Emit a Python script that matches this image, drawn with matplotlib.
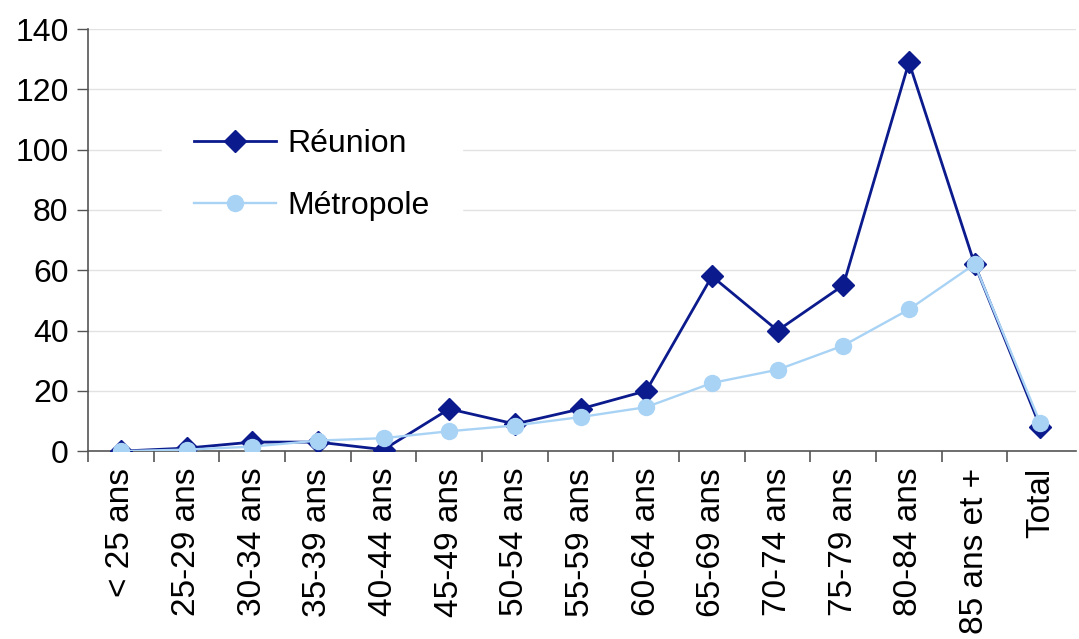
import matplotlib
matplotlib.use('Agg')
import numpy as np
import matplotlib.pyplot as plt
from matplotlib.ticker import FixedLocator

# Data
categories = ['< 25 ans', '25-29 ans', '30-34 ans', '35-39 ans', '40-44 ans',
              '45-49 ans', '50-54 ans', '55-59 ans', '60-64 ans', '65-69 ans',
              '70-74 ans', '75-79 ans', '80-84 ans', '85 ans et +', 'Total']
reunion = [0, 1, 3, 3, 0.5, 14, 9, 14, 20, 58, 40, 55, 129, 62, 8]
metropole = [0, 0.5, 1.5, 3.5, 4.3, 6.6, 8.5, 11.3, 14.6, 22.6, 27, 35, 47, 62, 9.3]
yticks = [0, 20, 40, 60, 80, 100, 120, 140]

plt.rcParams['font.family'] = ['Liberation Sans', 'DejaVu Sans']

fig = plt.figure(figsize=(10.79, 6.39), dpi=100)
ax = fig.add_axes([0.0816, 0.294, 0.916, 0.6606])

x = np.arange(len(categories))
ax.plot(x, reunion, color='#0b1a8c', lw=2.0, marker='D', markersize=11.5,
        label='Réunion', zorder=3)
ax.plot(x, metropole, color='#a9d3f5', lw=1.7, marker='o', markersize=11.5,
        label='Métropole', zorder=4)

ax.set_xlim(-0.5, len(categories) - 0.45)
ax.set_ylim(0, 140)
ax.set_yticks(yticks)
ax.yaxis.grid(True, color='#e2e2e2', lw=1.0)
ax.set_axisbelow(True)

ax.set_xticks(x)
ax.set_xticklabels(categories, rotation=90, fontsize=24)
ax.xaxis.set_minor_locator(FixedLocator(np.arange(len(categories)) - 0.5))
ax.tick_params(axis='x', which='major', length=0, pad=12)
ax.tick_params(axis='x', which='minor', length=8, width=1.2, color='#555555')
ax.tick_params(axis='y', length=8, width=1.0, color='#555555', labelsize=23, pad=6)

for s in ['top', 'right']:
    ax.spines[s].set_visible(False)
ax.spines['left'].set_color('#555555')
ax.spines['bottom'].set_color('#555555')
ax.spines['left'].set_linewidth(1.2)
ax.spines['bottom'].set_linewidth(1.2)

leg = ax.legend(loc='upper left', bbox_to_anchor=(0.059, 0.877), fontsize=23,
                frameon=True, facecolor='white', edgecolor='white', framealpha=1,
                fancybox=False, handlelength=2.55, labelspacing=1.02,
                borderpad=1.0, handletextpad=0.37)
leg.set_zorder(5)

fig.savefig('out.png', dpi=100)
